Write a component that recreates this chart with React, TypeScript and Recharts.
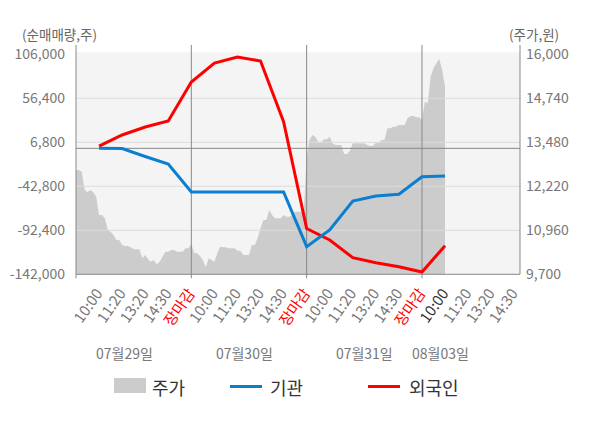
import React from 'react';
import {
  ComposedChart,
  Area,
  Line,
  XAxis,
  YAxis,
  ReferenceLine,
  ReferenceArea,
} from 'recharts';

const FONT = '"Noto Sans CJK KR", "Noto Sans", sans-serif';

// price samples every 1/8 of a time slot, starting at slot 0
const PRICE_STEP = 0.125;
const priceValues = [
  12687, 12687, 12638, 12114, 12048, 12114, 12048, 11922, 11398, 11398,
  11304, 10969, 10920, 10825, 10682, 10682, 10539, 10510, 10510, 10473,
  10416, 10416, 10416, 10158, 10253, 10130, 10061, 10109, 9986, 10061,
  10204, 10347, 10347, 10396, 10396, 10347, 10347, 10347, 10445, 10445,
  10568, 10301, 10301, 10224, 10109, 9900, 10158, 10109, 10061, 10301,
  10490, 10473, 10473, 10445, 10445, 10445, 10376, 10376, 10253, 10253,
  10253, 10539, 10539, 10731, 11017, 11255, 11255, 11541, 11398, 11304,
  11304, 11304, 11398, 11349, 11349, 11398, 11493, 11493, 11493, 11493,
  13068, 13546, 13689, 13640, 13497, 13468, 13566, 13566, 13640, 13451,
  13403, 13403, 13403, 13145, 13145, 13231, 13451, 13451, 13451, 13451,
  13451, 13403, 13374, 13374, 13468, 13468, 13546, 13546, 13881, 13881,
  13927, 13927, 13975, 13975, 13975, 14167, 14233, 14233, 14196, 14196,
  14119, 14643, 14597, 15358, 15599, 15742, 15865, 15550, 15072,
];

// net-buy series, one value per labelled slot (slot 1 .. 16)
const flowSlots = [1, 2, 3, 4, 5, 6, 7, 8, 9, 10, 11, 12, 13, 14, 15, 16];
const foreignValues = [
  2500, 15027, 24045, 30809, 74774, 96192, 102956, 98447, 30020, -90376,
  -103340, -123293, -128929, -133439, -139413, -109765,
];
const institutionValues = [
  0, -300, -9210, -17665, -49229, -49229, -49229, -49229, -49229, -110892,
  -92067, -59375, -53738, -51822, -31982, -31192,
];

const tickSlots = [0, 1, 2, 3, 4, 5, 6, 7, 8, 9, 10, 11, 12, 13, 14, 15, 16, 17, 18, 19];
const timeLabels = [
  '', '10:00', '11:20', '13:20', '14:30', '장마감',
  '10:00', '11:20', '13:20', '14:30', '장마감',
  '10:00', '11:20', '13:20', '14:30', '장마감',
  '10:00', '11:20', '13:20', '14:30',
];
const currentSlot = 16;
const daySlots = [5, 10, 15];
const dateSlots = [2.1, 7.3, 12.5, 15.8];
const dateLabels = ['07월29일', '07월30일', '07월31일', '08월03일'];

const leftTicks = [-142000, -92400, -42800, 6800, 56400, 106000];
const rightTicks = [9700, 10960, 12220, 13480, 14740, 16000];
const leftDomain = [-142000, 116484];
const rightDomain = [9700, 16266];
const xDomain = [0, 19.25];

const data = priceValues.map((p, i) => {
  const x = i * PRICE_STEP;
  const row: any = { x, price: p };
  const k = flowSlots.indexOf(x);
  if (k >= 0) {
    row.foreign = foreignValues[k];
    row.inst = institutionValues[k];
  }
  return row;
});

const fmt = (v: number) => v.toLocaleString('en-US');

const TICK_MARGIN = 16;
const LABEL_ANGLE = -55;

function TimeTick(props: any) {
  const { x, y, payload } = props;
  const v = payload.value;
  const idx = tickSlots.indexOf(v);
  const label = idx >= 0 ? timeLabels[idx] : '';
  const axisY = y - TICK_MARGIN;
  const boundary = v === 0 || daySlots.indexOf(v) >= 0;
  const color = label === '장마감' ? '#ff0000' : v === currentSlot ? '#333333' : '#777777';
  return (
    <g>
      {boundary && <line x1={x} x2={x} y1={axisY} y2={axisY + 4} stroke="#888888" />}
      {label && (
        <text
          x={x}
          y={y}
          transform={`rotate(${LABEL_ANGLE} ${x} ${y})`}
          textAnchor="end"
          dy="0.35em"
          fill={color}
          fontSize={15}
          fontFamily={FONT}
        >
          {label}
        </text>
      )}
    </g>
  );
}

function DateTick(props: any) {
  const { x, y, payload } = props;
  const idx = dateSlots.indexOf(payload.value);
  return (
    <text
      x={x}
      y={y + 19}
      textAnchor="middle"
      dominantBaseline="central"
      fill="#777777"
      fontSize={14}
      fontFamily={FONT}
    >
      {idx >= 0 ? dateLabels[idx] : ''}
    </text>
  );
}

const legendItems = [
  { label: '주가', kind: 'rect', color: '#cccccc', left: 114, textLeft: 152 },
  { label: '기관', kind: 'line', color: '#0a7fd0', left: 230, textLeft: 270 },
  { label: '외국인', kind: 'line', color: '#ff0000', left: 368, textLeft: 409 },
];

export default function App() {
  return (
    <div style={{ position: 'absolute', left: 0, top: 0, width: 600, height: 428, background: '#ffffff', fontFamily: FONT }}>
      <ComposedChart
        width={600}
        height={428}
        data={data}
        margin={{ top: 45, right: 0, bottom: 53.7, left: 0 }}
      >
        <XAxis
          xAxisId="a"
          dataKey="x"
          type="number"
          domain={xDomain}
          ticks={tickSlots}
          interval={0}
          height={60}
          tickLine={false}
          tickSize={0}
          tickMargin={TICK_MARGIN}
          axisLine={{ stroke: '#888888' }}
          tick={<TimeTick />}
        />
        <XAxis
          xAxisId="b"
          dataKey="x"
          type="number"
          domain={xDomain}
          ticks={dateSlots}
          interval={0}
          height={40}
          tickLine={false}
          tickSize={0}
          tickMargin={0}
          axisLine={false}
          tick={<DateTick />}
        />
        <YAxis
          yAxisId="left"
          orientation="left"
          width={76}
          domain={leftDomain}
          ticks={leftTicks}
          interval={0}
          tickLine={false}
          tickSize={6}
          tickMargin={5}
          axisLine={{ stroke: '#888888' }}
          tickFormatter={fmt}
          tick={{ fill: '#777777', fontSize: 14, fontFamily: FONT }}
        />
        <YAxis
          yAxisId="right"
          orientation="right"
          width={80}
          domain={rightDomain}
          ticks={rightTicks}
          interval={0}
          tickLine={false}
          tickSize={4}
          tickMargin={2}
          axisLine={{ stroke: '#888888' }}
          tickFormatter={fmt}
          tick={{ fill: '#777777', fontSize: 14, fontFamily: FONT, textAnchor: 'start' }}
        />
        <ReferenceArea
          xAxisId="a"
          yAxisId="left"
          y1={-142000}
          y2={108255}
          fill="#f4f4f4"
          fillOpacity={1}
          stroke="none"
        />
        <Area
          xAxisId="a"
          yAxisId="right"
          dataKey="price"
          type="linear"
          fill="#cccccc"
          fillOpacity={1}
          stroke="none"
          isAnimationActive={false}
          dot={false}
          activeDot={false}
        />
        {leftTicks.slice(1, 5).map((t) => (
          <ReferenceLine key={t} xAxisId="a" yAxisId="left" y={t} stroke="#dddddd" strokeWidth={1} />
        ))}
        <ReferenceLine xAxisId="a" yAxisId="left" y={0} stroke="#888888" strokeWidth={1} />
        {daySlots.map((d) => (
          <ReferenceLine key={d} xAxisId="a" yAxisId="left" x={d} stroke="#888888" strokeWidth={1} />
        ))}
        <Line
          xAxisId="a"
          yAxisId="left"
          dataKey="foreign"
          type="linear"
          stroke="#ff0000"
          strokeWidth={3}
          dot={false}
          activeDot={false}
          connectNulls
          isAnimationActive={false}
        />
        <Line
          xAxisId="a"
          yAxisId="left"
          dataKey="inst"
          type="linear"
          stroke="#0a7fd0"
          strokeWidth={3}
          dot={false}
          activeDot={false}
          connectNulls
          isAnimationActive={false}
        />
      </ComposedChart>

      <div style={{ position: 'absolute', left: 22, top: 24, height: 20, lineHeight: '20px', fontSize: 13.5, color: '#666666', whiteSpace: 'nowrap' }}>
        (순매매량,주)
      </div>
      <div style={{ position: 'absolute', left: 509, top: 24, height: 20, lineHeight: '20px', fontSize: 13.5, color: '#666666', whiteSpace: 'nowrap' }}>
        (주가,원)
      </div>

      {legendItems.map((it) => (
        <React.Fragment key={it.label}>
          {it.kind === 'rect' ? (
            <div style={{ position: 'absolute', left: it.left, top: 378, width: 32, height: 15, background: it.color }} />
          ) : (
            <div style={{ position: 'absolute', left: it.left, top: 384.5, width: 32, height: 3, background: it.color }} />
          )}
          <div style={{ position: 'absolute', left: it.textLeft, top: 375.5, height: 22, lineHeight: '22px', fontSize: 18, color: '#333333', whiteSpace: 'nowrap' }}>
            {it.label}
          </div>
        </React.Fragment>
      ))}
    </div>
  );
}
